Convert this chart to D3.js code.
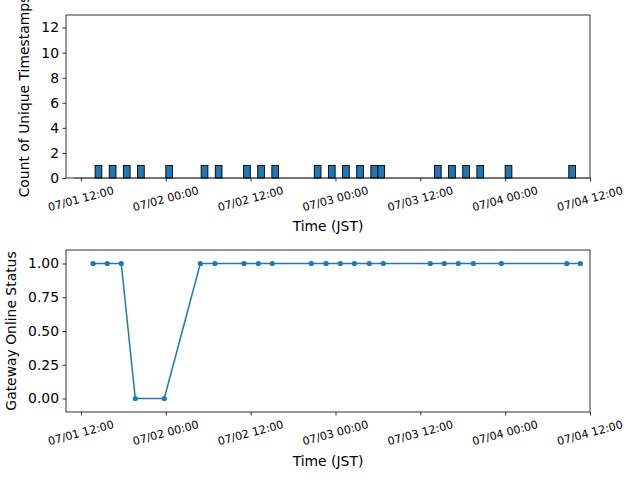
<!DOCTYPE html>
<html>
<head>
<meta charset="utf-8">
<script src="https://cdn.jsdelivr.net/npm/d3@7"></script>
<style>
  html, body { margin: 0; padding: 0; background: #fff; }
  svg { display: block; font-family: "DejaVu Sans", sans-serif; }
</style>
</head>
<body>
<svg id="chart" width="640" height="480"></svg>
<script>
// ---- Data ----
const xTickLabels = ["07/01 12:00", "07/02 00:00", "07/02 12:00", "07/03 00:00", "07/03 12:00", "07/04 00:00", "07/04 12:00"];
const xTickTimes = ["2024-07-01T12:00", "2024-07-02T00:00", "2024-07-02T12:00", "2024-07-03T00:00", "2024-07-03T12:00", "2024-07-04T00:00", "2024-07-04T12:00"];

// hourly bins with a unique timestamp (count per bin)
const countBinStarts = [
  "2024-07-01T14:00", "2024-07-01T16:00", "2024-07-01T18:00", "2024-07-01T20:00",
  "2024-07-02T00:00", "2024-07-02T05:00", "2024-07-02T07:00", "2024-07-02T11:00",
  "2024-07-02T13:00", "2024-07-02T15:00", "2024-07-02T21:00", "2024-07-02T23:00",
  "2024-07-03T01:00", "2024-07-03T03:00", "2024-07-03T05:00", "2024-07-03T06:00",
  "2024-07-03T14:00", "2024-07-03T16:00", "2024-07-03T18:00", "2024-07-03T20:00",
  "2024-07-04T00:00", "2024-07-04T09:00"
];
const countValues = [1,1,1,1, 1,1,1,1, 1,1,1,1, 1,1,1,1, 1,1,1,1, 1,1];
const countYTicks = [0, 2, 4, 6, 8, 10, 12];

const statusTimes = [
  "2024-07-01T13:42", "2024-07-01T15:43", "2024-07-01T17:42", "2024-07-01T19:41", "2024-07-01T23:47",
  "2024-07-02T04:53", "2024-07-02T06:57", "2024-07-02T11:04", "2024-07-02T13:05", "2024-07-02T15:04",
  "2024-07-02T20:35", "2024-07-02T22:40", "2024-07-03T00:41", "2024-07-03T02:40", "2024-07-03T04:47",
  "2024-07-03T06:46", "2024-07-03T13:25", "2024-07-03T15:23", "2024-07-03T17:22", "2024-07-03T19:30",
  "2024-07-03T23:28", "2024-07-04T08:43", "2024-07-04T10:38"
];
const statusValues = [1,1,1,0,0, 1,1,1,1,1, 1,1,1,1,1, 1,1,1,1,1, 1,1,1];
const statusYTicks = [0, 0.25, 0.5, 0.75, 1.0];

const xDomainStart = "2024-07-01T09:53";
const xDomainEnd = "2024-07-04T12:00";
const binRangeStart = "2024-07-01T11:00";

// ---- Setup ----
const parse = d3.timeParse("%Y-%m-%dT%H:%M");
const svg = d3.select("#chart");
const blue = "#1f77b4";
const L = 66, R = 590;
const top1 = { t: 15, b: 178 };
const top2 = { t: 250, b: 412 };

const x1 = d3.scaleTime().domain([parse(xDomainStart), parse(xDomainEnd)]).range([L, R]);
const x2 = x1.copy();
const y1 = d3.scaleLinear().domain([0, 13]).range([top1.b, top1.t]);
const y2 = d3.scaleLinear().domain([-0.1, 1.1]).range([top2.b, top2.t]);

function drawXAxis(x, bottom) {
  const g = svg.append("g").attr("transform", `translate(0,${bottom})`);
  const ax = d3.axisBottom(x).tickValues(xTickTimes.map(parse)).tickSize(3.5).tickPadding(0).tickFormat("");
  g.call(ax);
  g.select(".domain").remove();
  g.selectAll(".tick line").attr("stroke", "#000").attr("stroke-width", 0.8);
  // rotated labels, centered under ticks (bounding box top at pad)
  xTickTimes.forEach((t, i) => {
    const tx = x(parse(t));
    const txt = svg.append("text")
      .attr("font-size", "11.1px")
      .attr("fill", "#000")
      .attr("text-anchor", "middle")
      .attr("dominant-baseline", "central")
      .text(xTickLabels[i]);
    const w = txt.node().getComputedTextLength();
    const h = 11.1;
    const a = 15 * Math.PI / 180;
    const bh = w * Math.sin(a) + h * Math.cos(a);
    const cy = bottom + 3.5 + 3.5 + bh / 2;
    txt.attr("transform", `translate(${tx},${cy}) rotate(-15)`);
  });
}

function drawYAxis(y, ticks, fmt) {
  const g = svg.append("g").attr("transform", `translate(${L},0)`);
  const ax = d3.axisLeft(y).tickValues(ticks).tickSize(3.5).tickPadding(3.5).tickFormat(fmt);
  g.call(ax);
  g.select(".domain").remove();
  g.selectAll(".tick line").attr("stroke", "#000").attr("stroke-width", 0.8);
  g.selectAll(".tick text").attr("font-size", "13.9px").attr("font-family", "DejaVu Sans").attr("fill", "#000");
}

function frame(t, b) {
  svg.append("rect").attr("x", L).attr("y", t).attr("width", R - L).attr("height", b - t)
    .attr("fill", "none").attr("stroke", "#000").attr("stroke-width", 0.8);
}

// ---- Top chart: histogram ----
// zero-height bins baseline (edges of empty bars)
const binHours = d3.timeHour.range(parse(binRangeStart), parse(xDomainEnd));
svg.append("line")
  .attr("x1", x1(binHours[0])).attr("x2", x1(d3.timeHour.offset(binHours[binHours.length - 1], 1)))
  .attr("y1", y1(0)).attr("y2", y1(0))
  .attr("stroke", "#888").attr("stroke-width", 1);

const bars = countBinStarts.map((s, i) => ({ t: parse(s), v: countValues[i] }));
svg.append("g").selectAll("rect").data(bars).enter().append("rect")
  .attr("x", d => x1(d.t))
  .attr("y", d => y1(d.v))
  .attr("width", d => x1(new Date(d.t.getTime() + 0.95 * 3600e3)) - x1(d.t))
  .attr("height", d => y1(0) - y1(d.v))
  .attr("fill", blue)
  .attr("stroke", "#000")
  .attr("stroke-width", 0.9);

frame(top1.t, top1.b);
drawXAxis(x1, top1.b);
drawYAxis(y1, countYTicks, d3.format("d"));

svg.append("text").attr("x", (L + R) / 2).attr("y", 231).attr("text-anchor", "middle")
  .attr("font-size", "13.9px").text("Time (JST)");
svg.append("text").attr("transform", `translate(29,${(top1.t + top1.b) / 2}) rotate(-90)`)
  .attr("text-anchor", "middle").attr("font-size", "13.9px").text("Count of Unique Timestamps");

// ---- Bottom chart: status line ----
const pts = statusTimes.map((s, i) => ({ t: parse(s), v: statusValues[i] }));
const line = d3.line().x(d => x2(d.t)).y(d => y2(d.v));
svg.append("path").datum(pts).attr("d", line)
  .attr("fill", "none").attr("stroke", blue).attr("stroke-width", 1.5);
svg.append("g").selectAll("circle").data(pts).enter().append("circle")
  .attr("cx", d => x2(d.t)).attr("cy", d => y2(d.v)).attr("r", 2.6).attr("fill", blue);

frame(top2.t, top2.b);
drawXAxis(x2, top2.b);
drawYAxis(y2, statusYTicks, d3.format(".2f"));

svg.append("text").attr("x", (L + R) / 2).attr("y", 466).attr("text-anchor", "middle")
  .attr("font-size", "13.9px").text("Time (JST)");
svg.append("text").attr("transform", `translate(16,${(top2.t + top2.b) / 2}) rotate(-90)`)
  .attr("text-anchor", "middle").attr("font-size", "13.9px").text("Gateway Online Status");
</script>
</body>
</html>
